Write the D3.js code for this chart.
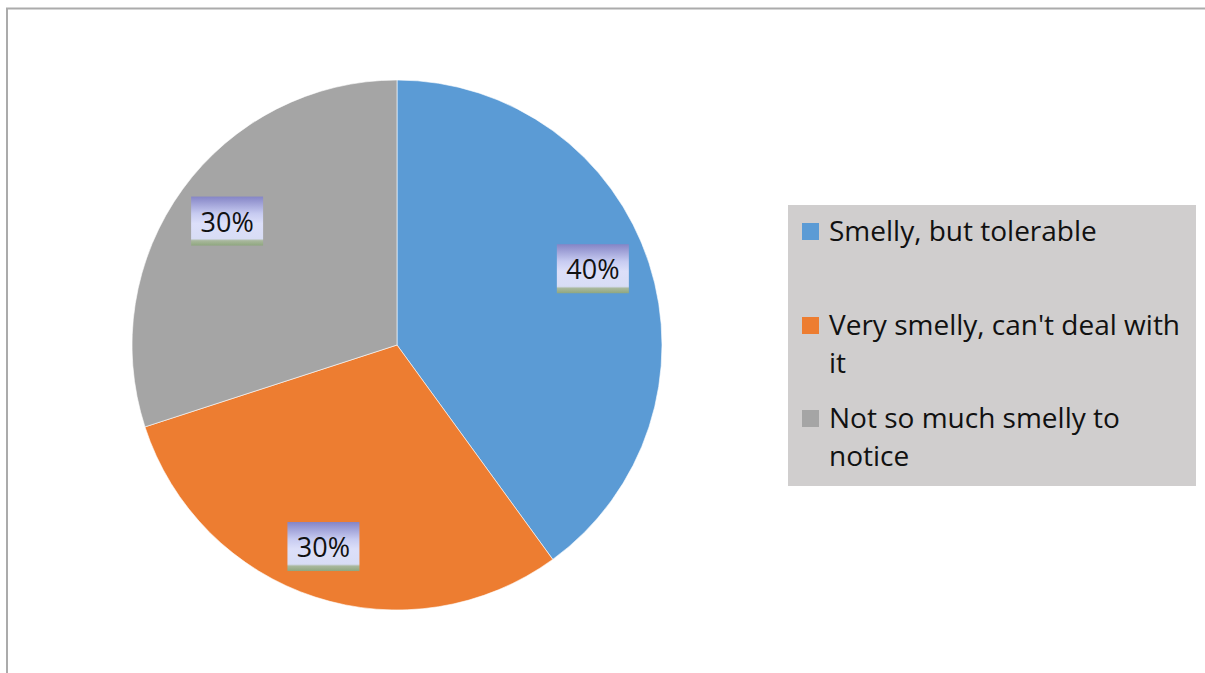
<!DOCTYPE html>
<html>
<head>
<meta charset="utf-8">
<script src="https://cdn.jsdelivr.net/npm/d3@7"></script>
<style>
  html, body { margin: 0; padding: 0; background: #fff; }
  svg { display: block; }
</style>
</head>
<body>
<svg id="chart" width="1205" height="673"></svg>
<script>
// Survey answers and their shares
const categories = ["Smelly, but tolerable", "Very smelly, can't deal with it", "Not so much smelly to notice"];
const values = [40, 30, 30];
const colors = ["#5b9bd5", "#ed7d31", "#a5a5a5"];
// Legend entries wrapped as they appear in the legend box
const legendLines = [["Smelly, but tolerable"], ["Very smelly, can't deal with", "it"], ["Not so much smelly to", "notice"]];

const W = 1205, H = 673;
const svg = d3.select("#chart");
const FONT = "'Open Sans', Lato, sans-serif";

// Chart frame
svg.append("rect")
  .attr("x", 7).attr("y", 8.5)
  .attr("width", W + 10).attr("height", H + 10)
  .attr("fill", "none").attr("stroke", "#ababab").attr("stroke-width", 2);

// Gradient used behind the data labels
const defs = svg.append("defs");
const grad = defs.append("linearGradient").attr("id", "lblGrad")
  .attr("x1", 0).attr("y1", 0).attr("x2", 0).attr("y2", 1);
[["0%", "#8585c6"], ["35%", "#c7cbf1"], ["55%", "#dcdff9"], ["86%", "#d8ddf5"], ["90%", "#a9b89d"], ["100%", "#8fa77f"]]
  .forEach(([o, c]) => grad.append("stop").attr("offset", o).attr("stop-color", c));

// Pie
const cx = 397, cy = 345, R = 265;
const pie = d3.pie().sort(null).value(d => d.value);
const arcs = pie(categories.map((c, i) => ({ name: c, value: values[i], color: colors[i] })));
const arc = d3.arc().innerRadius(0).outerRadius(R);

const g = svg.append("g").attr("transform", `translate(${cx},${cy})`);
g.selectAll("path.slice").data(arcs).enter().append("path")
  .attr("class", "slice")
  .attr("d", arc)
  .attr("fill", d => d.data.color)
  .attr("stroke", "#ffffff").attr("stroke-width", 0.6);

// Data labels (best-fit placement nudges)
const labelShift = [-0.055, 0.035, 0];   // radians relative to the slice mid-angle
const labelRadius = [210, 215, 210];
const total = d3.sum(values);
const fmt = v => Math.round(v / total * 100) + "%";
const lbl = g.selectAll("g.lbl").data(arcs).enter().append("g").attr("class", "lbl")
  .attr("transform", (d, i) => {
    const a = (d.startAngle + d.endAngle) / 2 + labelShift[i];
    const [x, y] = d3.pointRadial(a, labelRadius[i]);
    return `translate(${x},${y})`;
  });
lbl.append("rect")
  .attr("x", -36).attr("y", -25).attr("width", 72).attr("height", 49)
  .attr("fill", "url(#lblGrad)");
lbl.append("text")
  .attr("text-anchor", "middle").attr("y", 10)
  .attr("font-family", FONT).attr("font-size", 27).attr("fill", "#111")
  .text(d => fmt(d.data.value));

// Legend
const lg = svg.append("g").attr("transform", "translate(788,205)");
lg.append("rect").attr("width", 408).attr("height", 281).attr("fill", "#d0cece");
const entryY = [36, 130, 223];
const lineH = 38;
const item = lg.selectAll("g.item").data(categories).enter().append("g").attr("class", "item")
  .attr("transform", (d, i) => `translate(0,${entryY[i]})`);
item.append("rect")
  .attr("x", 14).attr("y", -18).attr("width", 17).attr("height", 17)
  .attr("fill", (d, i) => colors[i]);
item.each(function (d, i) {
  const t = d3.select(this).append("text")
    .attr("font-family", FONT).attr("font-size", 28).attr("fill", "#111");
  legendLines[i].forEach((line, k) => {
    t.append("tspan").attr("x", 41).attr("y", k * lineH).text(line);
  });
});
</script>
</body>
</html>
